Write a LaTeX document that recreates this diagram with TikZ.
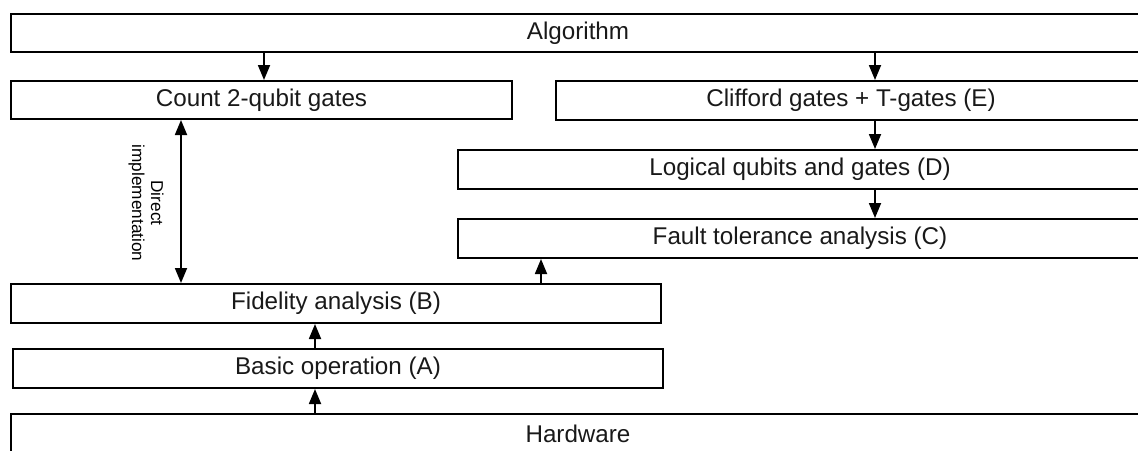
\documentclass[tikz,border=0pt]{standalone}
\usepackage{fontspec}
\setmainfont{Liberation Sans}
\usetikzlibrary{arrows.meta}
\begin{document}
\begin{tikzpicture}[x=0.5pt,y=-0.5pt,
  box/.style={draw=black, line width=1pt, fill=white, inner sep=0pt, font=\fontsize{12.1pt}{14pt}\selectfont, text=black!90},
  arr/.style={line width=0.9pt, -{Triangle[length=7.5pt,width=6pt]}},
  darr/.style={line width=0.9pt, {Triangle[length=7.5pt,width=6pt]}-{Triangle[length=7.5pt,width=6pt]}},
  lbl/.style={font=\fontsize{8.6pt}{9.5pt}\selectfont, align=center, rotate=-90, inner sep=0pt}]
\useasboundingbox (0,0) rectangle (1138,450);
\clip (0,0) rectangle (1138,450);
\node[box, minimum width=567pt, minimum height=19pt] (alg) at (578,33) {Algorithm};
\node[box, minimum width=250.5pt, minimum height=19pt] (count) at (261.5,100) {Count 2-qubit gates};
\node[box, minimum width=295pt, minimum height=19.5pt] (cliff) at (851,100.5) {Clifford gates + T-gates (E)};
\node[box, minimum width=342pt, minimum height=19.5pt] (logic) at (800,169.5) {Logical qubits and gates (D)};
\node[box, minimum width=342pt, minimum height=19.5pt] (fault) at (800,238.5) {Fault tolerance analysis (C)};
\node[box, minimum width=325pt, minimum height=19.5pt] (fid) at (336,303.5) {Fidelity analysis (B)};
\node[box, minimum width=325pt, minimum height=19.5pt] (basic) at (338,368.5) {Basic operation (A)};
\node[box, minimum width=567pt, minimum height=19.5pt] (hw) at (578,433.5) {Hardware};
\node[lbl] (direct) at (146,203) {Direct\\implementation};
\draw[arr] (alg.south -| 264,0) -- (count.north -| 264,0);
\draw[arr] (alg.south -| 875,0) -- (cliff.north -| 875,0);
\draw[arr] (cliff.south -| 875,0) -- (logic.north -| 875,0);
\draw[arr] (logic.south -| 875,0) -- (fault.north -| 875,0);
\draw[arr] (fid.north -| 541,0) -- (fault.south -| 541,0);
\draw[arr] (basic.north -| 315,0) -- (fid.south -| 315,0);
\draw[arr] (hw.north -| 315,0) -- (basic.south -| 315,0);
\draw[darr] (count.south -| 181,0) -- (fid.north -| 181,0);
\end{tikzpicture}
\end{document}
